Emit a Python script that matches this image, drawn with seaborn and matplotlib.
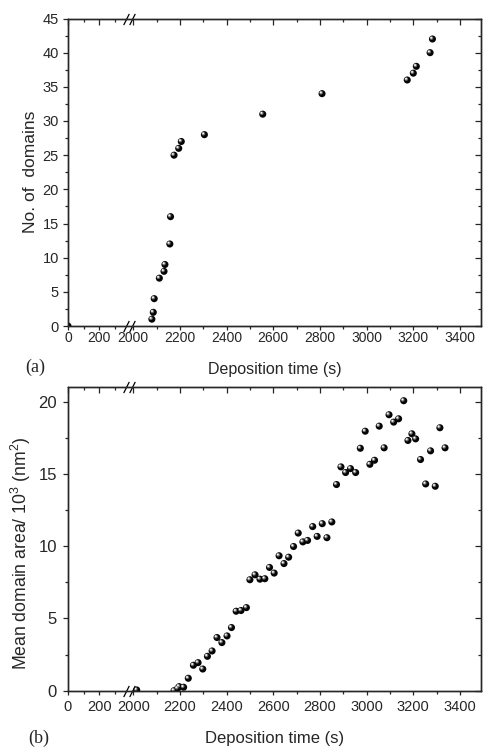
import numpy as np
import matplotlib
matplotlib.use("Agg")
import matplotlib.pyplot as plt
import matplotlib.transforms as mtransforms
from matplotlib.ticker import FixedLocator
import seaborn as sns

# ---------------- data ----------------
time_a = [0, 2080, 2086, 2090, 2112, 2132, 2136, 2157, 2160, 2175, 2195, 2206,
          2305, 2555, 2809, 3174, 3200, 3213, 3272, 3282]
domains_a = [0, 1, 2, 4, 7, 8, 9, 12, 16, 25, 26, 27, 28, 31, 34, 36, 37, 38, 40, 42]

time_b = [2015, 2175, 2190, 2197, 2216, 2236, 2258, 2278, 2298, 2318, 2338, 2359,
          2380, 2402, 2421, 2441, 2462, 2485, 2500, 2522, 2543, 2564, 2584, 2604,
          2625, 2646, 2666, 2687, 2707, 2727, 2747, 2769, 2788, 2810, 2830, 2851,
          2871, 2890, 2910, 2931, 2953, 2973, 2994, 3014, 3034, 3054, 3075, 3096,
          3116, 3137, 3159, 3177, 3194, 3210, 3231, 3253, 3274, 3294, 3314, 3336]
area_b = [0.05, 0.0, 0.15, 0.28, 0.24, 0.86, 1.76, 1.94, 1.50, 2.38, 2.75, 3.68,
          3.33, 3.79, 4.37, 5.50, 5.55, 5.75, 7.68, 8.02, 7.72, 7.75, 8.53, 8.14,
          9.34, 8.80, 9.24, 9.98, 10.91, 10.30, 10.40, 11.36, 10.68, 11.56, 10.59, 11.68,
          14.27, 15.49, 15.10, 15.37, 15.10, 16.78, 17.96, 15.67, 15.95, 18.31, 16.81, 19.10,
          18.59, 18.82, 20.07, 17.32, 17.78, 17.43, 16.00, 14.31, 16.60, 14.15, 18.20, 16.81]

x_major = [0, 200, 2000, 2200, 2400, 2600, 2800, 3000, 3200, 3400]
x_minor = [100, 300, 2100, 2300, 2500, 2700, 2900, 3100, 3300]
x_labels = ["0", "200", "2000", "2200", "2400", "2600", "2800", "3000", "3200", "3400"]

# ---------------- broken x scale ----------------
L_END, R_START, K, EPS = 380.0, 1978.0, 0.673, 1e-3
X_MAX = 3490.0
_A = K * L_END
_G = _A + (R_START - L_END) * EPS


def fwd(x):
    x = np.asarray(x, dtype=float)
    return np.where(x <= L_END, x * K,
                    np.where(x < R_START, _A + (x - L_END) * EPS, _G + (x - R_START)))


def inv(y):
    y = np.asarray(y, dtype=float)
    return np.where(y <= _A, y / K,
                    np.where(y < _G, L_END + (y - _A) / EPS, R_START + (y - _G)))


sns.set_style("white")
plt.rcParams['font.family'] = ['Liberation Sans', 'DejaVu Sans']
plt.rcParams['mathtext.fontset'] = 'custom'
plt.rcParams['mathtext.rm'] = 'Liberation Sans'
plt.rcParams['mathtext.it'] = 'Liberation Sans'

fig = plt.figure(figsize=(4.88, 7.47), dpi=100)
ax_a = fig.add_axes([68 / 488, 1 - 326 / 747, 413 / 488, 307.5 / 747])
ax_b = fig.add_axes([68 / 488, 1 - 690.7 / 747, 413 / 488, 303.4 / 747])


def sphere(ax, x, y):
    sns.scatterplot(x=x, y=y, ax=ax, s=26, color="#050505", edgecolor="none",
                    linewidth=0, legend=False, zorder=3)
    t1 = mtransforms.offset_copy(ax.transData, fig=fig, x=-0.7, y=0.7, units='points')
    ax.scatter(x, y, s=7, color="#6e6e6e", edgecolor="none", transform=t1, zorder=4)
    t2 = mtransforms.offset_copy(ax.transData, fig=fig, x=-0.9, y=0.9, units='points')
    ax.scatter(x, y, s=2.0, color="#f4f4f4", edgecolor="none", transform=t2, zorder=5)


def style_axes(ax, ymax, ystep, ylab_size, xlab_size, xpad, ypad, minors):
    ax.set_xscale('function', functions=(fwd, inv))
    ax.set_xlim(0, X_MAX)
    ax.set_ylim(0, ymax)
    ax.xaxis.set_major_locator(FixedLocator(x_major))
    ax.xaxis.set_minor_locator(FixedLocator(x_minor))
    ax.set_xticklabels(x_labels)
    yt = np.arange(0, ymax + 0.01, ystep)
    ax.yaxis.set_major_locator(FixedLocator(yt))
    ax.yaxis.set_minor_locator(FixedLocator(minors))
    ax.tick_params(axis='x', which='major', direction='out', length=3, width=0.9,
                   labelsize=xlab_size, pad=xpad, bottom=True, top=False)
    ax.tick_params(axis='y', which='major', direction='out', length=3.5, width=0.9,
                   labelsize=ylab_size, pad=ypad, left=True, right=False)
    ax.tick_params(which='minor', direction='out', length=2, width=0.9)
    for sp in ax.spines.values():
        sp.set_linewidth(0.9)
        sp.set_color('black')
    # mirrored inward ticks on top and right
    tx = ax.twiny()
    tx.set_xscale('function', functions=(fwd, inv))
    tx.set_xlim(0, X_MAX)
    tx.xaxis.set_major_locator(FixedLocator(x_major))
    tx.xaxis.set_minor_locator(FixedLocator(x_minor))
    tx.tick_params(axis='x', which='major', direction='in', length=4, width=0.9,
                   labeltop=False, top=True)
    tx.tick_params(axis='x', which='minor', direction='in', length=2.3, width=0.9, top=True)
    ty = ax.twinx()
    ty.set_ylim(0, ymax)
    ty.yaxis.set_major_locator(FixedLocator(yt))
    ty.yaxis.set_minor_locator(FixedLocator(minors))
    ty.tick_params(axis='y', which='major', direction='in', length=4, width=0.9,
                   labelright=False, right=True)
    ty.tick_params(axis='y', which='minor', direction='in', length=2.3, width=0.9, right=True)
    for t in (tx, ty):
        for sp in t.spines.values():
            sp.set_linewidth(0.9)
    # break marks
    for yb in (0, 1):
        for xf in (0.141, 0.155):
            ax.plot([xf], [yb], transform=ax.transAxes, marker=[(-0.5, -1), (0.5, 1)],
                    markersize=8, mew=0.9, color='black', linestyle='none', clip_on=False,
                    zorder=6)


sphere(ax_a, time_a, domains_a)
style_axes(ax_a, 45, 5, 10.5, 10, 0.6, 3, np.arange(2.5, 45, 5))
ax_a.set_xlabel("Deposition time (s)", fontsize=11.5, labelpad=12)
ax_a.set_ylabel("No. of  domains", fontsize=12.5, labelpad=3)

sphere(ax_b, time_b, area_b)
style_axes(ax_b, 21, 5, 12, 10.5, 4, 4.5, [2.5, 7.5, 12.5, 17.5])
ax_b.set_ylim(0, 21)
ax_b.set_xlabel("Deposition time (s)", fontsize=12, labelpad=12)
ax_b.set_ylabel("Mean domain area/ 10$^3$ (nm$^2$)", fontsize=12.7, labelpad=4)
ax_b.yaxis.set_label_coords(-0.085, 0.454)

fig.text(25 / 488, 1 - 367 / 747, "(a)", family=['Liberation Serif', 'DejaVu Serif'],
         fontsize=13, va='center', ha='left')
fig.text(28 / 488, 1 - 738 / 747, "(b)", family=['Liberation Serif', 'DejaVu Serif'],
         fontsize=13, va='center', ha='left')

fig.savefig("out.png", dpi=100)
